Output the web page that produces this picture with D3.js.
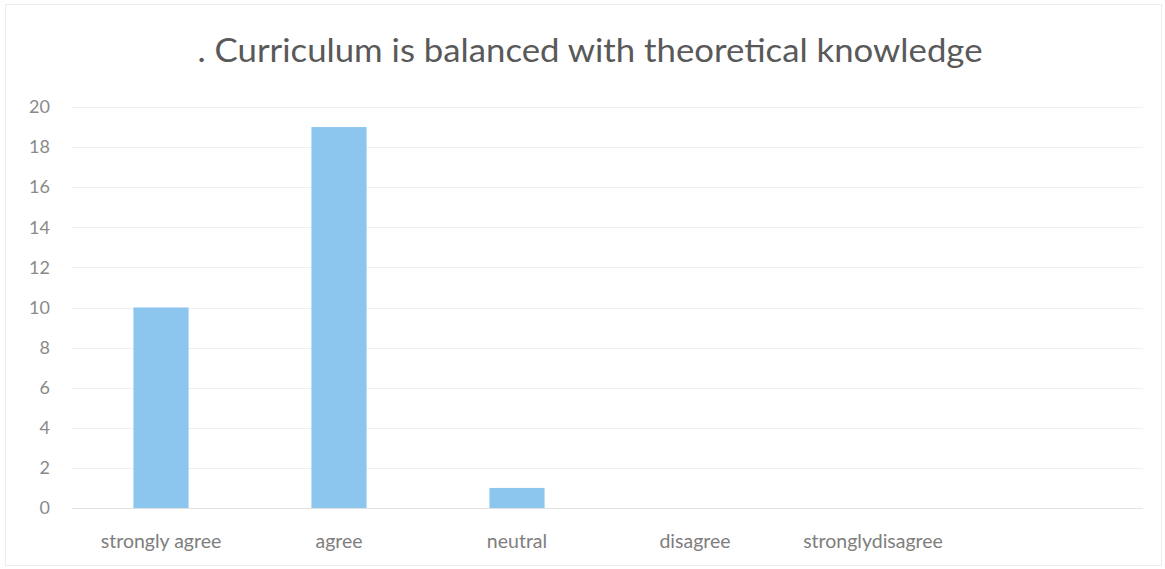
<!DOCTYPE html>
<html>
<head>
<meta charset="utf-8">
<script src="https://cdn.jsdelivr.net/npm/d3@7/dist/d3.min.js"></script>
<style>
  html, body { margin: 0; padding: 0; background: #fff; }
  svg { display: block; }
</style>
</head>
<body>
<svg id="chart" width="1165" height="569"></svg>
<script>
const title = ". Curriculum is balanced with theoretical knowledge";
const categories = ["strongly agree", "agree", "neutral", "disagree", "stronglydisagree"];
const values = [10, 19, 1, 0, 0];
const yTicks = [0, 2, 4, 6, 8, 10, 12, 14, 16, 18, 20];

const W = 1165, H = 569;
const plot = { left: 72, right: 1143, top: 107, bottom: 508 };
const bandRight = plot.left + 5 * 178;

const svg = d3.select("#chart");
const font = "Lato, 'Open Sans', sans-serif";

// faint chart border
svg.append("rect")
  .attr("x", 5.5).attr("y", 4.5).attr("width", W - 9).attr("height", H - 8)
  .attr("fill", "none").attr("stroke", "#ececec").attr("stroke-width", 1);

const x = d3.scaleBand().domain(categories).range([plot.left, bandRight]).paddingInner(0.69).paddingOuter(0.345);
const y = d3.scaleLinear().domain([0, 20]).range([plot.bottom, plot.top]);

// gridlines
svg.append("g").selectAll("line").data(yTicks).join("line")
  .attr("x1", plot.left).attr("x2", plot.right)
  .attr("y1", d => Math.round(y(d)) + 0.5).attr("y2", d => Math.round(y(d)) + 0.5)
  .attr("stroke", d => d === 0 ? "#e3e3e3" : "#efefef").attr("stroke-width", 1);

// y axis labels
const yAxis = d3.axisLeft(y).tickValues(yTicks).tickSize(0).tickPadding(0);
const gy = svg.append("g").attr("transform", `translate(50,0)`).call(yAxis);
gy.select(".domain").remove();
gy.selectAll("text").attr("font-family", font).attr("font-size", 18).attr("fill", "#8a8a8a");

// bars
svg.append("g").selectAll("rect").data(categories).join("rect")
  .attr("x", d => x(d))
  .attr("width", x.bandwidth())
  .attr("y", (d, i) => y(values[i]))
  .attr("height", (d, i) => y(0) - y(values[i]))
  .attr("fill", "#8cc6ee");

// x axis labels
const xAxis = d3.axisBottom(x).tickSize(0).tickPadding(0);
const gx = svg.append("g").attr("transform", `translate(0,${plot.bottom + 26})`).call(xAxis);
gx.select(".domain").remove();
gx.selectAll("text").attr("font-family", font).attr("font-size", 19.5).attr("fill", "#7e7e7e");

// title
svg.append("text")
  .attr("x", 590).attr("y", 62)
  .attr("text-anchor", "middle")
  .attr("font-family", font).attr("font-size", 33)
  .attr("textLength", 785).attr("lengthAdjust", "spacingAndGlyphs")
  .attr("fill", "#595959")
  .text(title);
</script>
</body>
</html>
